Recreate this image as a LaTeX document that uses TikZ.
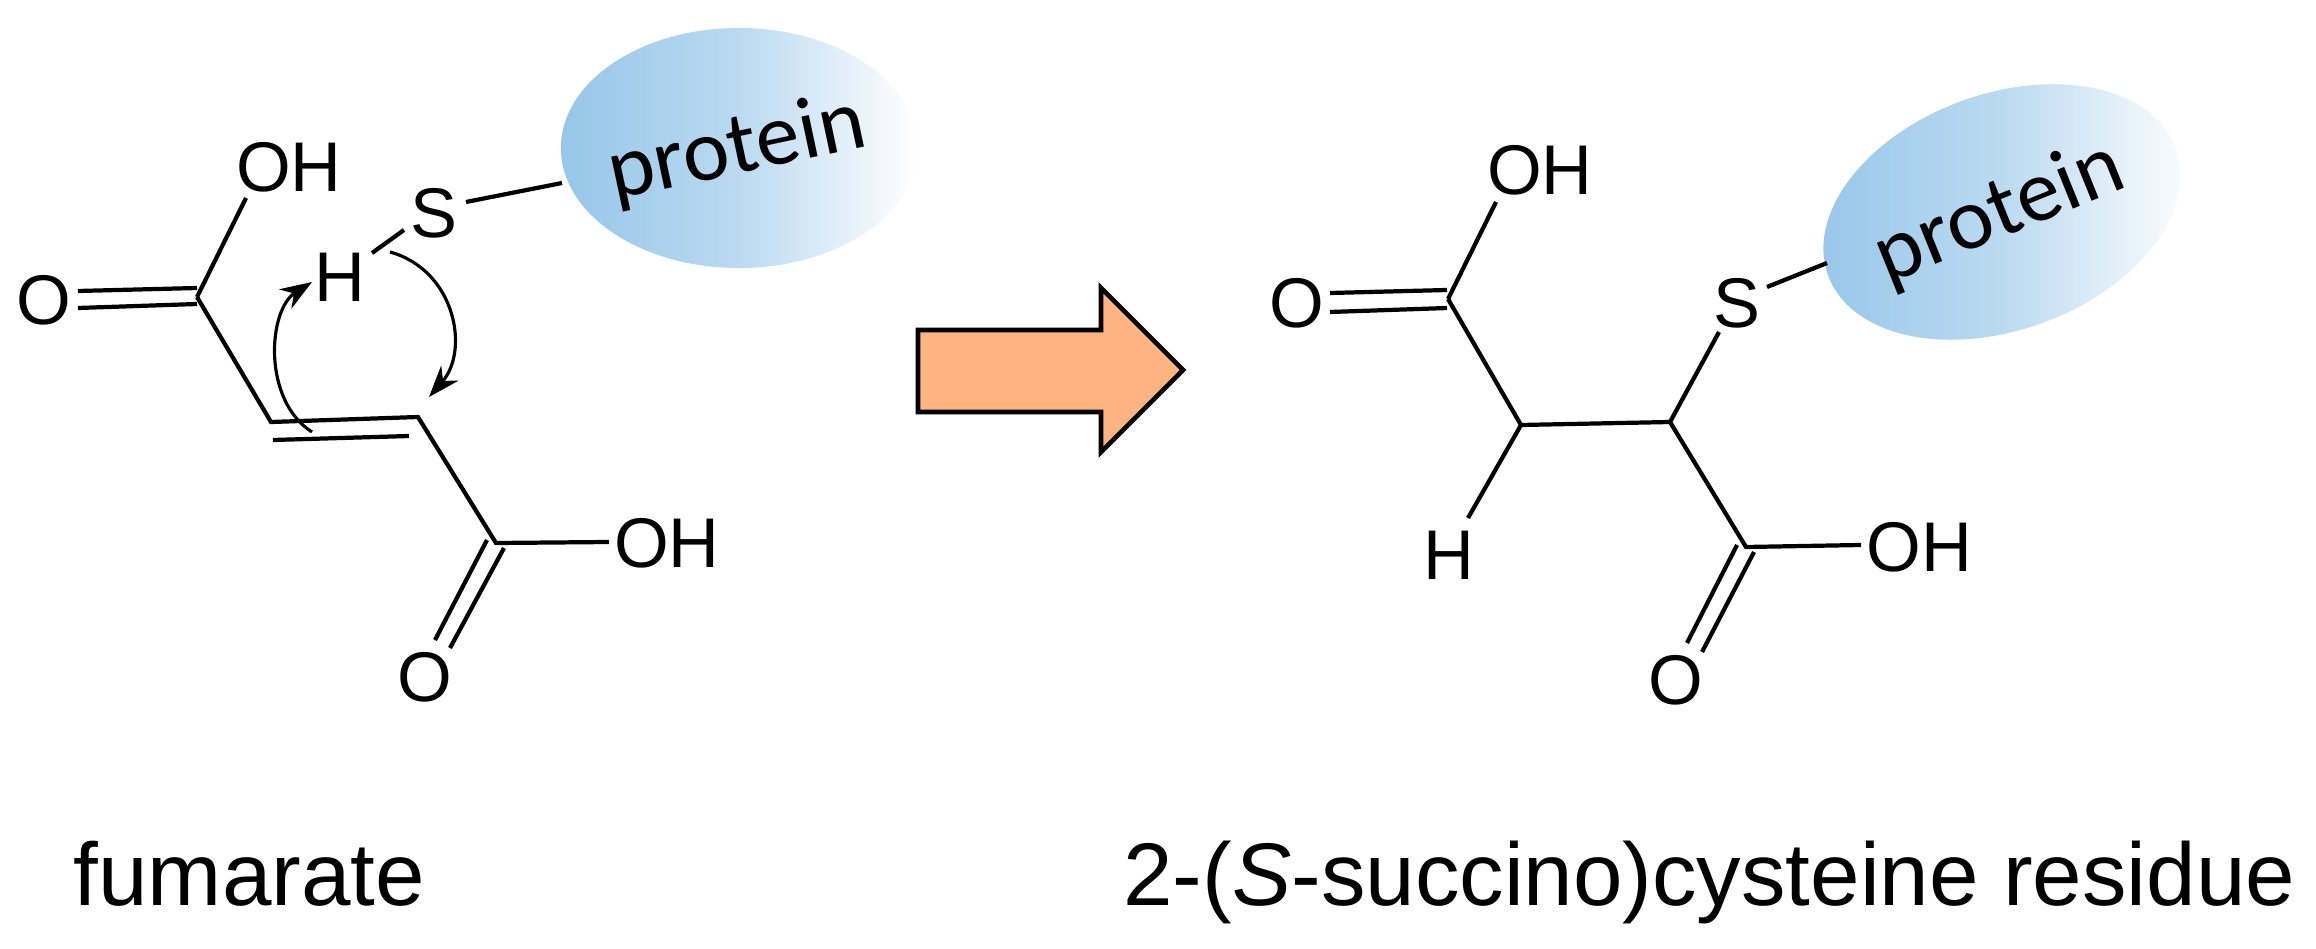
\documentclass[tikz,border=0pt]{standalone}
\usepackage{fontspec}
\setmainfont{Liberation Sans}
\newfontfamily\calib{Carlito}
\usetikzlibrary{shapes.geometric,arrows.meta}
\definecolor{protblue}{RGB}{150,198,233}
\definecolor{arroworange}{RGB}{255,179,128}
\begin{document}
\begin{tikzpicture}[x=0.01cm,y=-0.01cm,
  bond/.style={line width=1.2pt,line cap=butt},
  atom/.style={font=\fontsize{20}{24}\selectfont,inner sep=0pt},
  curly/.style={line width=0.9pt,-{Stealth[length=9pt,width=6.5pt]}},
  prot/.style={ellipse,inner sep=0pt,draw=none,left color=protblue,right color=white,middle color=protblue!65},
  ptext/.style={font=\calib\fontsize{25}{30}\selectfont,inner sep=0pt},
  label/.style={font=\fontsize{25.3}{30}\selectfont,inner sep=0pt}]
\useasboundingbox (0,0) rectangle (2316,949);
% ---------- left: fumarate ----------
\node[prot,minimum width=3.56cm,minimum height=2.40cm] (P1) at (739,148) {};
\node[ptext,rotate=12] (P1t) at (737,150) {protein};
\node[atom] (OHa) at (289,167) {OH};
\node[atom] (Oa) at (44,300) {O};
\node[atom] (Ha) at (340,277) {H};
\node[atom] (Sa) at (434,213) {S};
\node[atom] (OHb) at (667,543) {OH};
\node[atom] (Ob) at (425,677) {O};
\coordinate (C1) at (197,297);
\coordinate (C2) at (271,422);
\coordinate (C3) at (418,417);
\coordinate (C4) at (496,543);
\coordinate (e1) at (246,198);
\coordinate (e2) at (609,542);
\coordinate (hs1) at (372,253); \coordinate (hs2) at (404,230);
\coordinate (sp1) at (466,202); \coordinate (sp2) at (562,183);
\draw[bond] (C1) -- (e1);
\draw[bond] (78,291) -- (197,288);
\draw[bond] (78,308) -- (197,304);
\draw[bond] (C1) -- (C2) -- (C3) -- (C4) -- (e2);
\draw[bond] (273,440) -- (409,436);
\draw[bond] (487,540) -- (435,640);
\draw[bond] (504,548) -- (450,648);
\draw[bond] (hs1) -- (hs2);
\draw[bond] (sp1) -- (sp2);
\coordinate (a1s) at (312,432); \coordinate (a1e) at (312,282);
\coordinate (a2s) at (390,252); \coordinate (a2e) at (429,397);
\draw[curly] (a1s) .. controls (262,400) and (268,310) .. (a1e);
\draw[curly] (a2s) .. controls (455,270) and (470,350) .. (a2e);
% ---------- reaction arrow ----------
\draw[line width=1.3pt,fill=arroworange,line join=miter]
  (918,330) -- (1101,330) -- (1101,288) -- (1183,370) -- (1101,452) -- (1101,412) -- (918,412) -- cycle;
% ---------- right: product ----------
\node[prot,rotate=20,minimum width=3.70cm,minimum height=2.36cm] (P2) at (2002,212) {};
\node[ptext,rotate=22] (P2t) at (2000,214) {protein};
\node[atom] (OHc) at (1540,170) {OH};
\node[atom] (Oc) at (1297,303) {O};
\node[atom] (Hc) at (1449,555) {H};
\node[atom] (Sc) at (1737,303) {S};
\node[atom] (OHd) at (1919,547) {OH};
\node[atom] (Od) at (1676,680) {O};
\coordinate (D1) at (1448,299);
\coordinate (D2) at (1521,425);
\coordinate (D3) at (1670,422);
\coordinate (D4) at (1746,547);
\coordinate (f1) at (1496,202);
\coordinate (f2) at (1468,518);
\coordinate (f3) at (1719,332);
\coordinate (f4) at (1861,545);
\coordinate (sq1) at (1767,287); \coordinate (sq2) at (1827,263);
\draw[bond] (D1) -- (f1);
\draw[bond] (1330,293) -- (1447,290);
\draw[bond] (1330,312) -- (1447,308);
\draw[bond] (D1) -- (D2) -- (D3) -- (D4) -- (f4);
\draw[bond] (D2) -- (f2);
\draw[bond] (D3) -- (f3);
\draw[bond] (sq1) -- (sq2);
\draw[bond] (1737,545) -- (1687,643);
\draw[bond] (1754,552) -- (1702,652);
% ---------- captions ----------
\node[label,anchor=base west] (lf) at (73,905) {fumarate};
\node[label,anchor=base east] (lp) at (2296,905) {2-(\textit{S}-succino)cysteine residue};
\end{tikzpicture}
\end{document}
